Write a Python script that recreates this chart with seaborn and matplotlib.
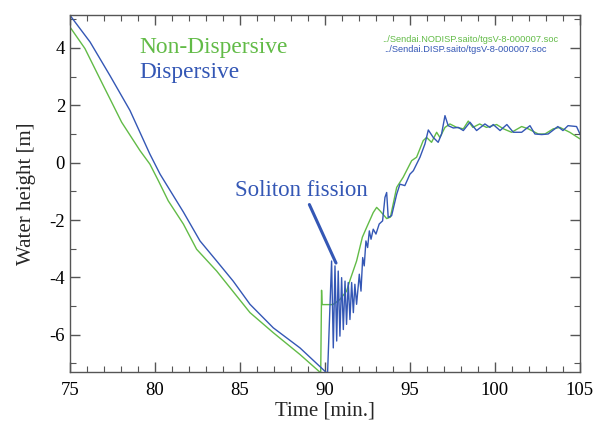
import matplotlib
matplotlib.use('Agg')
import matplotlib.pyplot as plt
import pandas as pd
import seaborn as sns

# ==================== data ====================
# Non-Dispersive run (green)
nodisp_t = [75.0, 75.88, 76.96, 77.35, 78.04, 79.12, 79.7, 80.2, 80.78, 81.67,
            82.45, 83.63, 85.59, 86.96, 88.53, 89.75, 89.8, 89.83, 90.47, 90.88,
            91.27, 91.5, 91.86, 92.2, 92.45, 92.84, 93.04, 93.24, 93.63, 93.85,
            94.22, 94.6, 95.1, 95.39, 95.78, 95.98, 96.27, 96.57, 96.76, 97.06,
            97.35, 97.75, 98.14, 98.43, 98.7, 99.1, 99.5, 100.1, 100.5, 100.98,
            101.57, 101.96, 102.55, 102.94, 103.43, 103.82, 104.4, 105.0]
nodisp_h = [4.73, 3.98, 2.69, 2.23, 1.41, 0.42, -0.05, -0.63, -1.33, -2.14,
            -3.02, -3.78, -5.23, -5.93, -6.69, -7.33, -4.45, -4.95, -4.95, -4.77,
            -4.48, -4.05, -3.43, -2.6, -2.26, -1.74, -1.56, -1.68, -1.95, -1.9,
            -0.86, -0.51, 0.07, 0.19, 0.77, 0.88, 0.71, 1.06, 0.88, 1.23,
            1.35, 1.23, 1.18, 1.45, 1.23, 1.35, 1.23, 1.33, 1.18, 1.06,
            1.26, 1.18, 1.0, 1.0, 1.18, 1.23, 1.06, 0.83]

# Dispersive run (blue)
disp_t = [75.0, 76.18, 77.35, 78.53, 79.7, 80.3, 80.59, 81.67, 82.65, 83.63,
          84.6, 85.59, 86.96, 88.53, 90.1, 90.15, 90.39, 90.49, 90.59, 90.69,
          90.78, 90.88, 90.98, 91.08, 91.18, 91.27, 91.37, 91.47, 91.57, 91.67,
          91.76, 91.86, 92.02, 92.12, 92.22, 92.31, 92.41, 92.51, 92.61, 92.71,
          92.84, 93.0, 93.19, 93.39, 93.53, 93.63, 93.72, 93.92, 94.22, 94.41,
          94.7, 95.0, 95.2, 95.59, 95.88, 96.08, 96.37, 96.66, 96.86, 97.06,
          97.25, 97.55, 97.84, 98.14, 98.53, 98.92, 99.41, 99.7, 99.9, 100.3,
          100.7, 101.08, 101.57, 102.06, 102.35, 102.75, 103.13, 103.7, 104.0, 104.3,
          104.8, 105.0]
disp_h = [5.14, 4.21, 3.04, 1.82, 0.3, -0.4, -0.68, -1.72, -2.73, -3.43,
          -4.13, -4.94, -5.76, -6.46, -7.33, -7.4, -3.43, -6.46, -3.6, -6.22,
          -3.78, -6.05, -4.01, -5.82, -4.13, -5.64, -4.18, -5.47, -4.18, -5.23,
          -4.24, -4.94, -3.89, -4.48, -3.31, -3.6, -2.73, -2.96, -2.38, -2.67,
          -2.32, -2.49, -2.14, -2.03, -1.21, -1.04, -1.91, -1.85, -1.1, -0.75,
          -0.8, -0.4, -0.28, 0.19, 0.65, 1.14, 0.88, 0.71, 1.0, 1.64,
          1.29, 1.21, 1.23, 1.12, 1.41, 1.12, 1.35, 1.23, 1.33, 1.12,
          1.33, 1.06, 1.06, 1.29, 1.0, 0.98, 1.0, 1.26, 1.12, 1.29,
          1.26, 1.0]

x_ticks = [75, 80, 85, 90, 95, 100, 105]
y_ticks = [-6, -4, -2, 0, 2, 4]

green = '#62bb47'
blue = '#3457b5'

# ==================== style ====================
sns.set_theme(style='ticks')
plt.rcParams['font.family'] = ['Liberation Serif', 'DejaVu Serif']
plt.rcParams['axes.unicode_minus'] = False

fig = plt.figure(figsize=(5.95, 4.26), dpi=100)
ax = fig.add_axes([0.1176, 0.1268, 0.8571, 0.838])

df_nodisp = pd.DataFrame({'t': nodisp_t, 'h': nodisp_h})
df_disp = pd.DataFrame({'t': disp_t, 'h': disp_h})

sns.lineplot(data=df_nodisp, x='t', y='h', sort=False, estimator=None,
             color=green, linewidth=1.0, ax=ax)
sns.lineplot(data=df_disp, x='t', y='h', sort=False, estimator=None,
             color=blue, linewidth=1.0, ax=ax)

ax.set_xlim(75, 105)
ax.set_ylim(-7.3, 5.15)
ax.set_xticks(x_ticks)
ax.set_yticks(y_ticks)
ax.set_xticks(range(75, 106), minor=True)
ax.set_yticks(range(-7, 6), minor=True)
ax.tick_params(which='both', direction='in', top=True, right=True,
               color='#555555', labelsize=13.5, labelcolor='black')
ax.tick_params(which='major', length=7, width=1)
ax.tick_params(which='minor', length=4, width=0.8)
ax.tick_params(axis='x', pad=7)
for s in ax.spines.values():
    s.set_color('#555555')
    s.set_linewidth(1.0)

ax.set_xlabel('Time [min.]', fontsize=15, labelpad=2)
ax.set_ylabel('Water height [m]', fontsize=15, labelpad=10)

# ==================== annotations ====================
ax.text(79.1, 4.02, 'Non-Dispersive', color=green, fontsize=16.8, va='center')
ax.text(79.1, 3.15, 'Dispersive', color=blue, fontsize=16.8, va='center')
ax.annotate('Soliton fission', xy=(90.65, -3.5), xytext=(84.7, -0.98),
            color=blue, fontsize=16.5, va='center',
            arrowprops=dict(arrowstyle='-', color=blue, lw=2.2,
                            shrinkA=0, shrinkB=0, relpos=(0.55, 0.0)))

ax.text(0.612, 0.93, '../Sendai.NODISP.saito/tgsV-8-000007.soc', color=green,
        fontsize=6.7, family=['Liberation Sans', 'DejaVu Sans'],
        transform=ax.transAxes, va='center')
ax.text(0.616, 0.902, '../Sendai.DISP.saito/tgsV-8-000007.soc', color=blue,
        fontsize=6.7, family=['Liberation Sans', 'DejaVu Sans'],
        transform=ax.transAxes, va='center')

plt.savefig('out.png', dpi=100)
